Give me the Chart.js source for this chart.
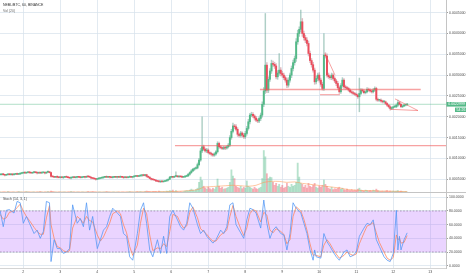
<!DOCTYPE html>
<html><head><meta charset="utf-8">
<script src="https://cdn.jsdelivr.net/npm/chart.js@4.4.1/dist/chart.umd.min.js"></script>
<style>
html,body{margin:0;padding:0;background:#fff;overflow:hidden}
#wrap{position:relative;width:466px;height:275px;background:#fff}
canvas{position:absolute;left:0}
#cA{top:0}
#cB{top:193px}
</style></head><body>
<div id="wrap"><canvas id="cA" width="466" height="193"></canvas><canvas id="cB" width="466" height="82"></canvas></div>
<script>
// ================= DATA =================
// Hourly candles (NEBL/BTC, 60 min). Prices in units of 1e-5 BTC.
const PRICE_UNIT = 1e-5;
const firstHour = 9;            // hour (since day 1, 00:00) of the first candle
const symbolTitle = 'NEBL/BTC, 60, BINANCE';
const volTitle = 'Vol (20)';
const stochTitle = 'Stoch (14, 3, 1)';
const lastLabel = '0.0022999';
const countdown = '54:26';
const dayLabels = ['2','3','4','5','6','7','8','9','10','11','12','13'];
const priceTickLabels = ['0.0005000','0.0010000','0.0015000','0.0020000','0.0025000','0.0030000','0.0035000','0.0040000','0.0045000'];
const stochTickLabels = ['0.0000','20.0000','40.0000','60.0000','80.0000','100.0000'];
const stochBand = [20, 80];

const closes = [
61,62,61,60,61,62,61,62,61,62,63,62,63,
64,65,66,65,66,67,66,65,66,67,66,65,66,65,66,66,65,67,68,66,
57,56,55,56,55,54,55,54,55,56,55,54,53,54,55,54,55,56,55,54,55,56,55,
57,56,55,53,52,51,50,51,52,53,
54,55,56,55,56,55,54,55,56,55,56,55,56,55,54,55,54,55,56,55,56,
57,58,57,58,59,60,59,61,
57,55,52,50,49,48,
46,45,44,45,44,45,
46,48,50,55,
56,55,57,58,56,57,
56,55,56,57,58,
62,66,70,
74,76,77,85,96,
118,128,122,118,120,114,112,110,108,111,116,
136,128,126,124,126,125,128,132,
150,165,178,176,170,158,155,161,156,152,160,
172,188,204,206,202,197,192,190,196,204,
230,262,324,264,290,310,328,326,322,296,
305,312,304,300,294,288,276,288,300,316,
330,340,380,400,410,428,400,390,384,376,
352,335,325,312,284,292,300,288,278,268,
348,346,300,296,294,300,292,286,280,270,
260,275,288,272,270,268,264,260,258,256,
254,252,248,256,264,262,258,260,266,264,
262,260,264,268,242,240,240,238,236,236,
232,228,224,220,222,224,224,228,234,230,
224,226,228,229,229.99
];
const opens = [
61,61,62,61,60,61,62,61,62,61,62,63,62,
63,64,65,66,65,66,67,66,65,66,67,66,65,66,65,66,66,65,67,68,
66,57,56,55,56,55,54,55,54,55,56,55,54,53,54,55,54,55,56,55,54,55,56,
55,57,56,55,53,52,51,50,51,52,
53,54,55,56,55,56,55,54,55,56,55,56,55,56,55,54,55,54,55,56,55,
56,57,58,57,58,59,60,59,
61,57,55,52,50,49,
48,46,45,44,45,44,
45,46,48,50,
55,56,55,57,58,56,
57,56,55,56,57,
58,62,66,
70,74,76,77,85,
96,118,128,122,118,120,114,112,110,108,111,
116,136,128,126,124,126,125,128,
132,150,165,178,176,170,158,155,161,156,152,
160,172,188,204,206,202,197,192,190,196,
204,230,262,324,264,290,310,328,326,322,
296,305,312,304,300,294,288,276,288,300,
316,330,340,380,400,410,428,400,390,384,
376,352,335,325,312,284,292,300,288,278,
268,348,346,300,296,294,300,292,286,280,
270,260,275,288,272,270,268,264,260,258,
256,254,252,248,256,264,262,258,260,266,
264,262,260,264,268,242,240,240,238,236,
236,232,228,224,220,222,224,224,228,234,
230,224,226,228,229
];
// wick lengths above the body top / below the body bottom (1e-5 BTC)
const wickUp = [
1,1,2,1,1,1,2,1,1,1, 1,2,1,1,1,1,2,1,1,1, 1,1,2,1,1,1,1,2,1,1, 1,2,1,1,1,1,1,2,1,1,
1,1,1,2,1,1,1,1,2,1, 1,1,2,1,1,1,1,1,2,1, 1,1,1,1,2,1,1,1,1,2, 1,1,1,2,1,1,1,1,2,1,
1,1,1,1,2,1,1,2,1,1, 1,2,1,2,1,1,1,1,1,1, 1,1,1,2,1,1,1,1,2,1, 2,1,1,1,10,1,1,1,2,1,
1,2,2,2,3,2,2,3,4,4, 6,72,4,3,4,3,2,3,2,3, 3,4,3,3,2,3,3,2,4,5, 5,7,4,5,4,3,4,3,4,5,
5,6,4,5,4,3,4,3,4,5, 6,8,124,6,6,6,8,6,5,6, 6,40,6,5,5,4,5,6,5,6, 6,6,8,8,6,28,8,6,6,6,
6,6,5,6,5,6,5,6,5,5, 52,6,5,5,4,5,4,4,4,5, 4,5,6,4,4,3,3,3,3,3, 3,3,3,37,4,3,3,3,4,3,
3,3,4,4,3,3,2,3,2,3, 2,2,2,3,2,2,3,3,6,3, 2,2,2,2,2
];
const wickDown = [
1,1,1,2,1,1,1,1,2,1, 1,1,1,2,1,1,1,1,1,2, 1,1,1,1,2,1,1,1,1,2, 1,1,1,2,1,1,1,2,1,1,
1,2,1,1,1,1,2,1,1,1, 2,1,1,1,1,2,1,1,1,2, 1,1,2,1,1,1,1,2,1,1, 1,2,1,1,1,1,2,1,1,1,
2,1,1,1,1,1,2,1,1,1, 1,1,2,1,1,2,1,1,2,1, 1,2,1,1,2,1,1,1,1,2, 1,1,2,1,1,1,2,1,1,1,
2,1,1,2,2,2,3,2,2,3, 3,4,3,3,4,3,3,4,3,3, 3,3,4,3,3,3,4,3,3,3, 4,4,5,4,5,4,4,5,4,4,
4,4,5,4,4,5,4,4,4,5, 5,6,6,6,6,5,6,5,6,5, 6,5,6,5,5,5,6,5,5,6, 6,6,7,6,7,6,7,6,6,6,
6,5,6,5,6,5,5,5,5,4, 5,5,5,4,4,5,4,4,5,4, 4,4,4,4,4,3,3,3,3,3, 3,3,4,36,3,3,3,3,3,3,
3,3,3,3,4,3,3,3,3,3, 3,3,3,4,3,3,2,2,3,2, 2,2,2,2,2
];
// hourly volume (BTC)
const volumes = [
2,1,2,2,1,3,2,1,2,2, 1,2,3,2,2,1,2,3,2,2, 1,2,2,1,2,2,3,2,1,2, 2,3,2,4,3,2,2,1,2,2,
1,2,2,1,2,2,3,2,2,1, 2,2,1,2,2,1,2,3,2,2, 3,2,2,1,2,2,1,2,2,3, 2,2,1,2,2,1,2,2,1,2,
2,1,2,2,3,2,2,1,2,3, 2,3,2,2,3,4,3,3,2,3, 3,3,2,4,3,2,3,2,4,3, 5,4,6,3,5,3,2,3,2,3,
4,5,4,6,8,6,5,7,10,22, 33,26,14,10,8,12,9,7,10,8, 12,29,14,10,12,8,9,10,12,22, 48,35,30,14,12,10,14,9,12,10,
25,14,12,10,8,12,9,8,10,12, 30,88,75,40,30,33,32,22,16,20, 14,18,12,16,10,12,20,14,12,18, 14,16,22,62,33,20,18,12,16,10,
20,14,12,16,20,12,10,14,12,16, 27,18,14,10,8,12,7,9,8,10, 12,8,10,7,6,8,6,5,7,5, 6,5,8,10,6,5,4,6,5,4,
5,4,6,5,8,5,4,3,4,3, 4,5,3,4,3,4,3,4,5,3, 4,3,2,3,2
];
// Volume moving average (20)
const volMaHours = [9,30,60,90,120,130,135,138,141,145,150,155,160,165,170,175,180,185,190,195,200,205,210,215,220,225,230,235,240,245,250,255,260,265,273];
const volMa      = [2,2,2,2,3,4.5,6,8,12,13,14,15,16,15,14,16,22,24,24,22,23,20,18,16,14,12,10,7,6,5,5,4,4,3.5,3];

// Stochastic (14,3,1)
const stochHours = [9,11,13,15,18,20,22,24,26,28,31,33,35,37,39,41,42,44,46,48,50,52,54,56,59,61,63,65,67,69,72,74,76,78,80,82,85,87,89,91,93,95,98,100,102,104,106,108,111,113,115,117,119,121,124,126,128,130,132,134,137,139,141,143,145,147,149,152,154,156,158,160,162,165,167,169,171,173,175,178,180,182,184,186,188,191,193,195,197,199,201,204,206,208,210,212,213,214,217,219,221,223,225,227,229,232,234,236,238,240,242,245,247,249,251,253,255,258,260,262,264,266,267,268,269,271,273];
const stochK = [80,57,81,82,77,94,92,62,72,62,47,52,40,50,94,92,6,38,25,25,18,20,25,89,62,69,57,92,52,72,25,38,52,57,72,84,77,72,47,43,13,8,47,81,92,62,23,13,38,18,43,18,72,81,67,57,52,62,92,84,60,47,52,43,38,33,38,52,47,57,89,92,60,48,40,67,84,82,77,55,96,62,40,52,57,47,45,23,47,92,84,77,62,47,23,8,23,13,11,47,35,28,20,13,8,20,23,13,15,20,43,55,62,60,67,38,28,13,8,6,18,81,23,43,23,38,48];
const stochD = [75,68,70,78,80,85,90,80,72,66,56,50,46,46,70,88,60,40,28,26,22,20,22,55,72,68,62,72,66,64,45,36,42,52,62,76,80,76,60,48,28,15,30,62,84,76,45,22,26,25,32,28,50,75,72,62,55,58,78,86,70,54,50,46,40,36,36,45,48,52,72,88,72,54,44,55,76,82,80,64,78,74,52,48,54,50,46,32,38,72,86,80,68,52,32,15,16,15,13,30,38,32,24,17,11,15,20,17,15,17,32,48,58,60,63,48,34,20,11,8,12,45,38,40,33,34,44];

// Drawn trend / level lines (hour, price in 1e-5 BTC)
const levelLow   = [[122.4,130.6],[298.2,130.6]];
const levelHigh  = [[177.5,265.5],[281.8,265.5]];
const levelShort = [[216.5,253],[229.4,253]];
const trendDown  = [[219.7,352],[226.2,300]];
const triTop     = [[265.1,243],[280,215]];
const triBottom  = [[261.9,218],[280,215]];

// ================= CHART =================
const X_MIN = 8.89, X_MAX = 298.2;
const UP = '#53b987', DOWN = '#eb4d5c';
const GRID = 'rgba(214,225,235,0.7)';
const FONT_FAMILY = "'Liberation Sans', Arial, sans-serif";
const FONT = "3.5px " + FONT_FAMILY;
Chart.defaults.font.family = FONT_FAMILY;
Chart.defaults.font.size = 3.5;
Chart.defaults.color = '#4d4d4d';

const isUp = i => closes[i] >= opens[i];
const hourOf = i => firstHour + i;
const bodyData = closes.map((c, i) => ({x: hourOf(i), y: [opens[i], c]}));
const wickData = closes.map((c, i) => ({x: hourOf(i), y: [Math.min(opens[i], c) - wickDown[i], Math.max(opens[i], c) + wickUp[i]]}));
const volData = volumes.map((v, i) => ({x: hourOf(i), y: v}));
const volMaData = volMaHours.map((h, i) => ({x: h, y: volMa[i]}));
const pts = arr => arr.map(p => ({x: p[0], y: p[1]}));
const lastClose = closes[closes.length - 1];

function drawLine(data, color, w, order) {
  return {type: 'line', data: pts(data), borderColor: color, borderWidth: w, pointRadius: 0, yAxisID: 'y', order: order, tension: 0};
}
const RED_DRAW = 'rgba(240,85,85,0.55)';

const paneAPlugin = {
  id: 'paneA',
  afterDraw(chart) {
    const ctx = chart.ctx, a = chart.chartArea;
    const yp = chart.scales.y.getPixelForValue(lastClose);
    ctx.save();
    ctx.font = FONT;
    ctx.textBaseline = 'middle';
    ctx.textAlign = 'left';
    ctx.fillStyle = '#333333';
    ctx.fillText(symbolTitle, 3, 5);
    ctx.fillStyle = '#6b6b6b';
    ctx.fillText(volTitle, 3, 10.7);
    ctx.fillStyle = UP;
    ctx.fillRect(a.right + 0.5, yp - 2.3, 466 - a.right, 4.6);
    ctx.fillRect(455, yp + 3.3, 11, 4.4);
    ctx.fillStyle = '#ffffff';
    ctx.fillText(lastLabel, a.right + 2.3, yp + 0.1);
    ctx.fillText(countdown, 456.6, yp + 5.6);
    ctx.strokeStyle = '#c4c4c4';
    ctx.lineWidth = 1;
    ctx.beginPath(); ctx.moveTo(0, 192.5); ctx.lineTo(466, 192.5); ctx.stroke();
    ctx.restore();
  }
};

new Chart(document.getElementById('cA'), {
  type: 'bar',
  data: {
    datasets: [
      {type: 'bar', data: volData, yAxisID: 'yv', order: 20, grouped: false, barThickness: 1.2,
        backgroundColor: c => isUp(c.dataIndex) ? 'rgba(83,185,135,0.42)' : 'rgba(235,77,92,0.42)'},
      {type: 'line', data: volMaData, yAxisID: 'yv', order: 19, borderColor: 'rgba(255,150,80,0.6)', borderWidth: 0.9, pointRadius: 0, tension: 0.3},
      drawLine([[X_MIN, lastClose],[X_MAX, lastClose]], 'rgba(83,185,135,0.45)', 1, 12),
      {type: 'bar', data: wickData, yAxisID: 'y', order: 10, grouped: false, barThickness: 0.8,
        backgroundColor: c => isUp(c.dataIndex) ? 'rgba(120,175,160,0.6)' : 'rgba(200,140,150,0.6)'},
      {type: 'bar', data: bodyData, yAxisID: 'y', order: 9, grouped: false, barThickness: 1.3, minBarLength: 0.8,
        backgroundColor: c => isUp(c.dataIndex) ? UP : DOWN},
      drawLine(levelLow, RED_DRAW, 1.3, 5),
      drawLine(levelHigh, RED_DRAW, 1.3, 5),
      drawLine(levelShort, RED_DRAW, 1.1, 5),
      drawLine(trendDown, RED_DRAW, 1.0, 5),
      drawLine(triTop, RED_DRAW, 1.0, 5),
      drawLine(triBottom, RED_DRAW, 1.0, 5)
    ]
  },
  options: {
    responsive: false, animation: false, devicePixelRatio: 1,
    layout: {padding: 0},
    plugins: {legend: {display: false}, tooltip: {enabled: false}},
    scales: {
      x: {type: 'linear', min: X_MIN, max: X_MAX, offset: false,
        ticks: {display: false, stepSize: 24, includeBounds: false},
        grid: {color: GRID, drawTicks: false, offset: false}, border: {display: false},
        afterFit(s) { s.height = 0; s.paddingLeft = 0; s.paddingRight = 0; }},
      y: {type: 'linear', position: 'right', min: 17.0, max: 480.4, beginAtZero: false,
        ticks: {stepSize: 50, includeBounds: false, padding: 1, color: '#4d4d4d',
          callback: v => priceTickLabels[Math.round(v / 50) - 1] || ''},
        grid: {color: GRID, tickLength: 2, tickColor: '#a0a0a0'},
        border: {display: true, color: '#c4c4c4'},
        afterFit(s) { s.width = 20; s.paddingTop = 0; s.paddingBottom = 0; }},
      yv: {type: 'linear', display: false, min: 0, max: 400}
    }
  },
  plugins: [paneAPlugin]
});

const paneBPlugin = {
  id: 'paneB',
  beforeDatasetsDraw(chart) {
    const ctx = chart.ctx, a = chart.chartArea, ys = chart.scales.y;
    const yHi = ys.getPixelForValue(stochBand[1]), yLo = ys.getPixelForValue(stochBand[0]);
    ctx.save();
    ctx.fillStyle = 'rgba(175,90,255,0.26)';
    ctx.fillRect(a.left, yHi, a.right - a.left, yLo - yHi);
    ctx.strokeStyle = 'rgba(125,105,140,0.75)';
    ctx.lineWidth = 0.8;
    ctx.setLineDash([1.6, 1.6]);
    [yHi, yLo].forEach(y => { ctx.beginPath(); ctx.moveTo(a.left, y); ctx.lineTo(a.right, y); ctx.stroke(); });
    ctx.restore();
  },
  afterDraw(chart) {
    const ctx = chart.ctx;
    ctx.save();
    ctx.font = FONT;
    ctx.textBaseline = 'middle';
    ctx.fillStyle = '#444444';
    ctx.fillText(stochTitle, 3, 6.3);
    ctx.restore();
  }
};

new Chart(document.getElementById('cB'), {
  type: 'line',
  data: {
    datasets: [
      {data: stochHours.map((h, i) => ({x: h, y: stochD[i]})), borderColor: 'rgba(255,130,90,0.85)', borderWidth: 0.9, pointRadius: 0, tension: 0, order: 2},
      {data: stochHours.map((h, i) => ({x: h, y: stochK[i]})), borderColor: 'rgba(80,150,245,0.85)', borderWidth: 0.9, pointRadius: 0, tension: 0, order: 1}
    ]
  },
  options: {
    responsive: false, animation: false, devicePixelRatio: 1,
    layout: {padding: 0},
    plugins: {legend: {display: false}, tooltip: {enabled: false}},
    scales: {
      x: {type: 'linear', min: X_MIN, max: X_MAX, offset: false,
        ticks: {stepSize: 24, includeBounds: false, autoSkip: false, maxRotation: 0, padding: 2, color: '#4d4d4d',
          callback: v => dayLabels[Math.round(v / 24) - 1] || ''},
        grid: {color: GRID, drawTicks: false}, border: {display: true, color: '#d4d4d4'},
        afterFit(s) { s.height = 7; s.paddingLeft = 0; s.paddingRight = 0; }},
      y: {type: 'linear', position: 'right', min: -3.4, max: 106.3, beginAtZero: false,
        ticks: {stepSize: 20, includeBounds: false, padding: 1, color: '#4d4d4d',
          callback: v => stochTickLabels[Math.round(v / 20)] || ''},
        grid: {color: GRID, tickLength: 2, tickColor: '#a0a0a0'},
        border: {display: true, color: '#c4c4c4'},
        afterFit(s) { s.width = 20; s.paddingTop = 0; s.paddingBottom = 0; }}
    }
  },
  plugins: [paneBPlugin]
});
</script>
</body></html>
